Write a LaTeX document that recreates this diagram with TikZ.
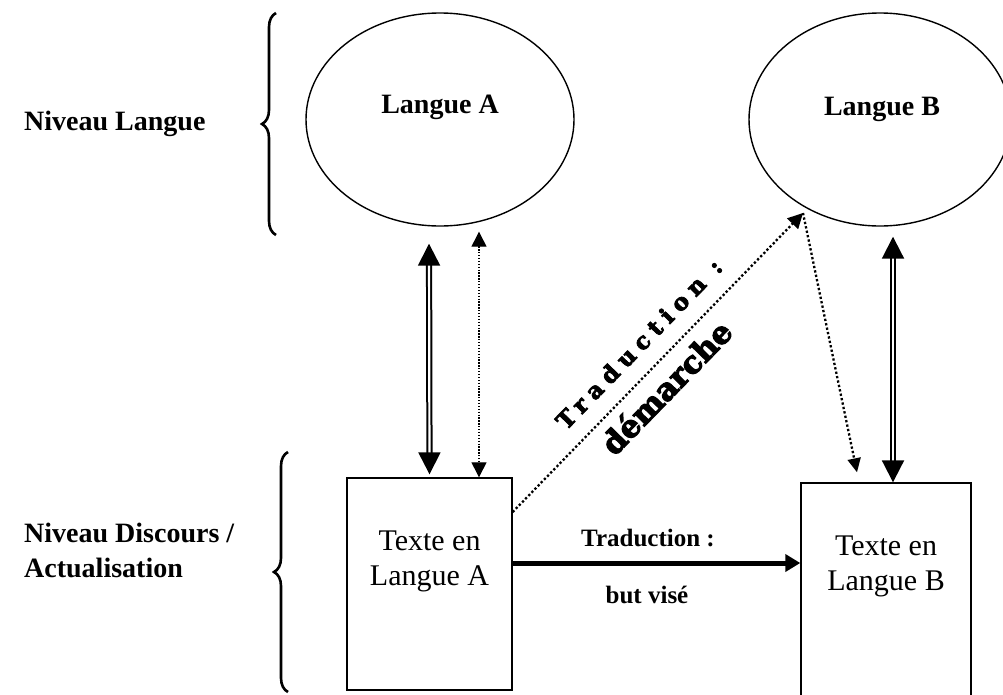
\documentclass[tikz,border=0pt]{standalone}
\usepackage{fontspec}
\setmainfont{Liberation Serif}
\newfontfamily\heavyfont{DejaVu Serif}[BoldFeatures={FakeBold=3.5}]
\usetikzlibrary{arrows.meta,shapes.geometric,decorations.pathreplacing,calc}

\begin{document}
\begin{tikzpicture}[x=1pt,y=-1pt,
  lang/.style={draw,ellipse,line width=1.4pt,inner sep=0pt,minimum width=268pt,minimum height=213pt},
  textbox/.style={draw,rectangle,line width=1.4pt,inner sep=0pt},
  boldlabel/.style={font=\bfseries\fontsize{28}{34}\selectfont,inner sep=0pt,anchor=base},
  levellabel/.style={font=\bfseries\fontsize{28}{35}\selectfont,inner sep=0pt,anchor=base west},
  plainlabel/.style={font=\fontsize{30}{35}\selectfont,inner sep=0pt,anchor=base},
  arrowlabel/.style={font=\bfseries\fontsize{25}{30}\selectfont,inner sep=0pt,anchor=base},
  dblarrow/.style={double,double distance=2.2pt,line width=2pt,
    {Triangle[length=22pt,width=22pt]}-{Triangle[length=22pt,width=22pt]}},
  thinDots/.style={line width=1.3pt,dash pattern=on 1.3pt off 1.6pt},
  thickDots/.style={line width=2.3pt,dash pattern=on 2.3pt off 2.2pt},
  levelbrace/.style={decorate,decoration={brace,amplitude=14pt},line width=2.6pt}
]
\useasboundingbox (0,0) rectangle (1003,694);

% Language level: the two languages
\node[lang] (ellA) at (440,119.5) {};
\node[lang,minimum width=262pt] (ellB) at (880,119.5) {};
\node[boldlabel] (langA) at (440,113) {Langue A};
\node[boldlabel] (langB) at (882,115) {Langue B};

% Discourse level: the two texts
\node[textbox,minimum width=165pt,minimum height=212pt] (boxA) at (429.5,584) {};
\node[textbox,minimum width=170pt,minimum height=217pt] (boxB) at (886,591.5) {};
\node[plainlabel] (txtA1) at (429.5,550) {Texte en};
\node[plainlabel] (txtA2) at (429.5,585) {Langue A};
\node[plainlabel] (txtB1) at (886,555) {Texte en};
\node[plainlabel] (txtB2) at (886,590) {Langue B};

% Level labels and braces (a multi-line node sits on its last baseline)
\node[levellabel] (lvl1) at (24,130) {Niveau Langue};
\node[levellabel,align=left] (lvl2) at (24,577) {Niveau Discours /\\Actualisation};
\coordinate (br1top) at (276,13);
\coordinate (br1bot) at (276,235);
\coordinate (br2top) at (288,452);
\coordinate (br2bot) at (288,692);
\draw[levelbrace] (br1bot) -- (br1top);
\draw[levelbrace] (br2bot) -- (br2top);

% Vertical links between levels
\draw[dblarrow] ([xshift=-11pt,yshift=-17pt]ellA.south) -- ([yshift=3pt]boxA.north);
\draw[thinDots,{Triangle[length=15pt,width=15pt]}-{Triangle[length=15pt,width=15pt]}]
  ([xshift=39pt,yshift=-5pt]ellA.south) -- ([xshift=49.5pt]boxA.north);
\draw[dblarrow] ([xshift=13pt,yshift=-10pt]ellB.south) -- ([xshift=7pt]boxB.north);

% Translation as a process: through language B
\coordinate (apexB) at (803,213);
\draw[thickDots,-{Triangle[length=15pt,width=15pt]}] ([yshift=72pt]boxA.east) -- (apexB);
\draw[thickDots,-{Triangle[length=14pt,width=13pt]}] (apexB) -- ([xshift=-29pt,yshift=10pt]boxB.north);
\node[rotate=45.8,inner sep=0pt,anchor=base,align=center,
      font=\heavyfont\bfseries\fontsize{23}{53}\selectfont\addfontfeature{LetterSpace=30}]
  (proc) at (683,386.8)
  {Traduction :\\{\heavyfont\bfseries\fontsize{31}{53}\selectfont démarche\hspace*{24pt}}};

% Translation as a goal: text to text
\coordinate (goalStart) at ([yshift=21pt]boxA.east);
\draw[line width=5pt,-{Triangle[length=15pt,width=17pt]}] (goalStart) -- (goalStart -| boxB.west);
\node[arrowlabel] (goal1) at (648,546) {Traduction :};
\node[arrowlabel] (goal2) at (647,603) {but visé};
\end{tikzpicture}
\end{document}
